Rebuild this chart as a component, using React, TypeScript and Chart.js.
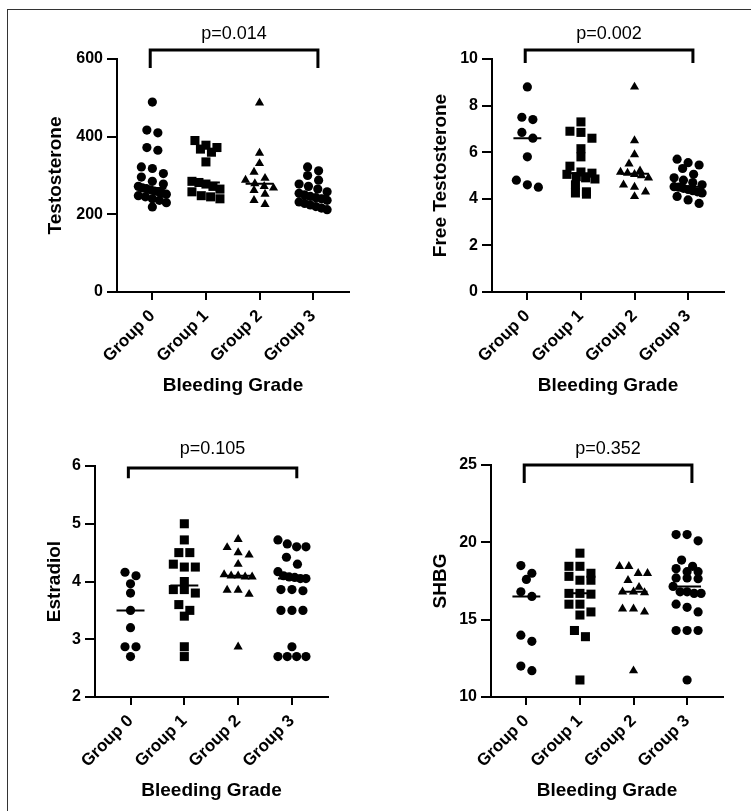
import React, { useEffect, useRef } from "react";
import { Chart, registerables } from "chart.js";

Chart.register(...registerables);

// ---------- data ----------
const GROUPS = ["Group 0", "Group 1", "Group 2", "Group 3"];
const X_TITLE = "Bleeding Grade";

const TESTO_G0 = [489, 417, 410, 372, 365, 322, 318, 305, 296, 285, 278, 272, 268, 266, 263, 260, 258, 255, 252, 248, 245, 240, 236, 230, 219];
const TESTO_G1 = [390, 378, 372, 368, 360, 335, 285, 282, 278, 272, 265, 258, 248, 245, 240];
const TESTO_G2 = [487, 358, 331, 309, 293, 288, 279, 272, 268, 262, 252, 236, 226];
const TESTO_G3 = [322, 312, 300, 288, 278, 272, 265, 258, 254, 250, 246, 243, 240, 236, 232, 228, 224, 220, 216, 212];
const TESTO_TICKS = [0, 200, 400, 600];

const FREE_G0 = [8.8, 7.5, 7.4, 6.85, 6.6, 5.8, 4.8, 4.6, 4.5];
const FREE_G1 = [7.3, 6.9, 6.85, 6.6, 6.15, 5.8, 5.4, 5.15, 5.1, 5.05, 4.95, 4.9, 4.85, 4.6, 4.3, 4.25, 4.2];
const FREE_G2 = [8.8, 6.5, 5.9, 5.5, 5.2, 5.15, 5.1, 5.05, 5.0, 4.9, 4.6, 4.5, 4.3, 4.1];
const FREE_G3 = [5.7, 5.55, 5.45, 5.3, 5.05, 4.9, 4.8, 4.7, 4.6, 4.52, 4.5, 4.45, 4.4, 4.35, 4.3, 4.25, 4.1, 3.95, 3.8];
const FREE_TICKS = [0, 2, 4, 6, 8, 10];

const ESTR_G0 = [4.16, 4.1, 3.96, 3.8, 3.5, 3.2, 2.87, 2.87, 2.7];
const ESTR_G1 = [5.0, 4.72, 4.5, 4.5, 4.3, 4.25, 4.25, 4.0, 3.86, 3.86, 3.8, 3.6, 3.5, 3.4, 2.87, 2.7];
const ESTR_G2 = [4.73, 4.59, 4.5, 4.46, 4.3, 4.12, 4.1, 4.1, 4.08, 4.08, 3.85, 3.85, 3.78, 2.87];
const ESTR_G3 = [4.72, 4.65, 4.6, 4.6, 4.42, 4.3, 4.17, 4.1, 4.08, 4.07, 4.05, 4.05, 3.86, 3.86, 3.84, 3.5, 3.5, 3.5, 2.87, 2.7, 2.7, 2.7, 2.7];
const ESTR_TICKS = [2, 3, 4, 5, 6];

const SHBG_G0 = [18.5, 18.0, 17.6, 16.8, 16.5, 14.0, 13.6, 12.0, 11.7];
const SHBG_G1 = [19.3, 18.45, 18.45, 18.0, 17.8, 17.55, 17.55, 16.7, 16.7, 16.65, 16.0, 16.0, 15.5, 15.3, 14.3, 13.9, 11.1];
const SHBG_G2 = [18.45, 18.45, 18.0, 18.0, 17.55, 17.1, 16.75, 16.8, 16.8, 15.7, 15.7, 15.5, 11.7];
const SHBG_G3 = [20.5, 20.5, 20.1, 18.85, 18.45, 18.3, 18.1, 18.1, 17.7, 17.7, 17.65, 17.15, 16.8, 16.8, 16.7, 16.7, 16.0, 15.8, 15.5, 14.3, 14.3, 14.3, 11.1];
const SHBG_TICKS = [10, 15, 20, 25];

const P_VALUES = ["p=0.014", "p=0.002", "p=0.105", "p=0.352"];
const Y_TITLES = ["Testosterone", "Free Testosterone", "Estradiol", "SHBG"];
// bracket top and leg-end values in each panel's y units
const BRACKET_TOP = [623, 10.39, 5.965, 25];
const BRACKET_LEG = [577, 9.83, 5.79, 23.84];

// ---------- layout / style ----------
const FONT = '"Liberation Sans", Arial, Helvetica, sans-serif';
const X_MIN = -0.66;
const X_MAX = 3.67;
const BRACKET_X: [number, number] = [-0.04, 3.09];
const STYLES = ["circle", "rect", "triangle", "circle"];
const RADII = [4.6, 6.4, 5.3, 4.6];

type PanelDef = {
  series: number[][];
  ticks: number[];
  yTitle: string;
  pText: string;
  bTop: number;
  bLeg: number;
  box: { x: number; y: number; w: number; h: number };
  area: { l: number; t: number; r: number };
  yTitleX: number;
  textGap: number;
};

const PANELS: PanelDef[] = [
  {
    series: [TESTO_G0, TESTO_G1, TESTO_G2, TESTO_G3], ticks: TESTO_TICKS,
    yTitle: Y_TITLES[0], pText: P_VALUES[0], bTop: BRACKET_TOP[0], bLeg: BRACKET_LEG[0],
    box: { x: 0, y: 0, w: 375, h: 405 }, area: { l: 117, t: 59, r: 349 }, yTitleX: 56, textGap: 11,
  },
  {
    series: [FREE_G0, FREE_G1, FREE_G2, FREE_G3], ticks: FREE_TICKS,
    yTitle: Y_TITLES[1], pText: P_VALUES[1], bTop: BRACKET_TOP[1], bLeg: BRACKET_LEG[1],
    box: { x: 375, y: 0, w: 376, h: 405 }, area: { l: 117, t: 59, r: 349 }, yTitleX: 66, textGap: 11,
  },
  {
    series: [ESTR_G0, ESTR_G1, ESTR_G2, ESTR_G3], ticks: ESTR_TICKS,
    yTitle: Y_TITLES[2], pText: P_VALUES[2], bTop: BRACKET_TOP[2], bLeg: BRACKET_LEG[2],
    box: { x: 0, y: 405, w: 375, h: 406 }, area: { l: 95, t: 61, r: 328 }, yTitleX: 55, textGap: 14,
  },
  {
    series: [SHBG_G0, SHBG_G1, SHBG_G2, SHBG_G3], ticks: SHBG_TICKS,
    yTitle: Y_TITLES[3], pText: P_VALUES[3], bTop: BRACKET_TOP[3], bLeg: BRACKET_LEG[3],
    box: { x: 375, y: 405, w: 376, h: 406 }, area: { l: 116, t: 60, r: 348 }, yTitleX: 66, textGap: 11,
  },
];
const PLOT_BOTTOM = 292; // within each canvas
const X_TITLE_Y = 386; // within each canvas

function median(vals: number[]): number {
  const s = [...vals].sort((a, b) => a - b);
  const n = s.length;
  return n % 2 ? s[(n - 1) / 2] : (s[n / 2 - 1] + s[n / 2]) / 2;
}

// deterministic row-based scatter layout (like a column scatter plot):
// points whose values lie within one marker height share a row and are spread side by side
function swarm(vals: number[], pxPerY: number, catPx: number, rowH = 8, spacing = 11, maxHalf = 14): number[] {
  const idx = vals.map((_, i) => i).sort((a, b) => vals[b] - vals[a]);
  const offs = new Array(vals.length).fill(0);
  let row: number[] = [];
  const flush = () => {
    const n = row.length;
    if (!n) return;
    const sp = n > 1 ? Math.min(spacing, (2 * maxHalf) / (n - 1)) : 0;
    row.forEach((i, k) => {
      offs[i] = ((k - (n - 1) / 2) * sp) / catPx;
    });
    row = [];
  };
  for (const i of idx) {
    if (row.length && (vals[row[0]] - vals[i]) * pxPerY > rowH) flush();
    row.push(i);
  }
  flush();
  return offs;
}

function Panel({ def }: { def: PanelDef }) {
  const ref = useRef<HTMLCanvasElement | null>(null);
  useEffect(() => {
    if (!ref.current) return;
    const { box, area, ticks } = def;
    const ymin = ticks[0];
    const ymax = ticks[ticks.length - 1];
    const plotH = PLOT_BOTTOM - area.t;
    const catPx = (area.r - area.l) / (X_MAX - X_MIN);
    const datasets: any[] = def.series.map((vals, g) => {
      const offs = swarm(vals, plotH / (ymax - ymin), catPx);
      return {
        type: "scatter",
        data: vals.map((v, i) => ({ x: g + offs[i], y: v })),
        pointStyle: STYLES[g],
        pointRadius: RADII[g],
        backgroundColor: "#000",
        borderColor: "#000",
        borderWidth: 0,
        order: 2,
        clip: false,
      };
    });
    const med: any[] = [];
    def.series.forEach((vals, g) => {
      const m = median(vals);
      med.push({ x: g - 0.26, y: m }, { x: g + 0.26, y: m }, { x: g + 0.5, y: null });
    });
    datasets.push({
      type: "line",
      data: med,
      borderColor: "#000",
      borderWidth: 2,
      pointRadius: 0,
      spanGaps: false,
      order: 1,
      clip: false,
    });

    const tickFont = { family: FONT, size: 16, weight: "bold" as const };
    const xTickFont = { family: FONT, size: 17, weight: "bold" as const };
    const titleFont = { family: FONT, size: 19, weight: "bold" as const };
    const lh = 19 * 1.2;

    const bracketPlugin = {
      id: "bracket",
      afterDraw(chart: any) {
        const { ctx } = chart;
        const xs = chart.scales.x;
        const ys = chart.scales.y;
        const x0 = xs.getPixelForValue(BRACKET_X[0]);
        const x1 = xs.getPixelForValue(BRACKET_X[1]);
        const yb = ys.getPixelForValue(def.bTop);
        const yl = ys.getPixelForValue(def.bLeg);
        ctx.save();
        ctx.strokeStyle = "#000";
        ctx.lineWidth = 3;
        ctx.lineJoin = "miter";
        ctx.beginPath();
        ctx.moveTo(x0, yl);
        ctx.lineTo(x0, yb);
        ctx.lineTo(x1, yb);
        ctx.lineTo(x1, yl);
        ctx.stroke();
        ctx.fillStyle = "#000";
        ctx.font = `18px ${FONT}`;
        ctx.textAlign = "center";
        ctx.textBaseline = "alphabetic";
        ctx.fillText(def.pText, (x0 + x1) / 2, yb - def.textGap);
        ctx.restore();
      },
    };

    const chart = new Chart(ref.current, {
      type: "scatter",
      data: { datasets },
      options: {
        animation: false,
        responsive: false,
        maintainAspectRatio: false,
        events: [],
        layout: { padding: { left: 0, top: area.t, right: box.w - area.r, bottom: 0 } },
        plugins: { legend: { display: false }, tooltip: { enabled: false } },
        scales: {
          x: {
            type: "linear",
            min: X_MIN,
            max: X_MAX,
            afterBuildTicks: (s: any) => {
              s.ticks = GROUPS.map((_, i) => ({ value: i }));
            },
            afterFit: (s: any) => {
              s.height = box.h - PLOT_BOTTOM;
            },
            ticks: {
              autoSkip: false,
              minRotation: 45,
              maxRotation: 45,
              padding: 6,
              color: "#000",
              font: xTickFont,
              callback: (v: any) => GROUPS[Math.round(Number(v))] ?? "",
            },
            grid: { display: true, drawOnChartArea: false, drawTicks: true, tickLength: 8, lineWidth: 2, color: "#000" },
            border: { display: true, width: 2, color: "#000" },
            title: {
              display: true,
              text: X_TITLE,
              color: "#000",
              font: titleFont,
              padding: { top: 0, bottom: box.h - lh / 2 - X_TITLE_Y },
            },
          },
          y: {
            type: "linear",
            min: ymin,
            max: ymax,
            afterBuildTicks: (s: any) => {
              s.ticks = ticks.map((v) => ({ value: v }));
            },
            afterFit: (s: any) => {
              s.width = area.l;
            },
            ticks: { padding: 4, color: "#000", font: tickFont, callback: (v: any) => String(v) },
            grid: { display: true, drawOnChartArea: false, drawTicks: true, tickLength: 10, lineWidth: 2, color: "#000" },
            border: { display: true, width: 2, color: "#000" },
            title: {
              display: true,
              text: def.yTitle,
              color: "#000",
              font: titleFont,
              padding: { top: def.yTitleX - lh / 2, bottom: 0 },
            },
          },
        },
      } as any,
      plugins: [bracketPlugin],
    });
    return () => chart.destroy();
  }, [def]);

  return (
    <canvas
      ref={ref}
      width={def.box.w}
      height={def.box.h}
      style={{ position: "absolute", left: def.box.x, top: def.box.y, width: def.box.w, height: def.box.h }}
    />
  );
}

export default function App() {
  return (
    <div style={{ position: "absolute", left: 0, top: 0, width: 751, height: 811, background: "#fff", overflow: "hidden" }}>
      <div
        style={{
          position: "absolute",
          left: 7,
          top: 9,
          width: 751,
          height: 811,
          borderLeft: "1px solid #333",
          borderTop: "1px solid #333",
        }}
      />
      {PANELS.map((p, i) => (
        <Panel key={i} def={p} />
      ))}
    </div>
  );
}
